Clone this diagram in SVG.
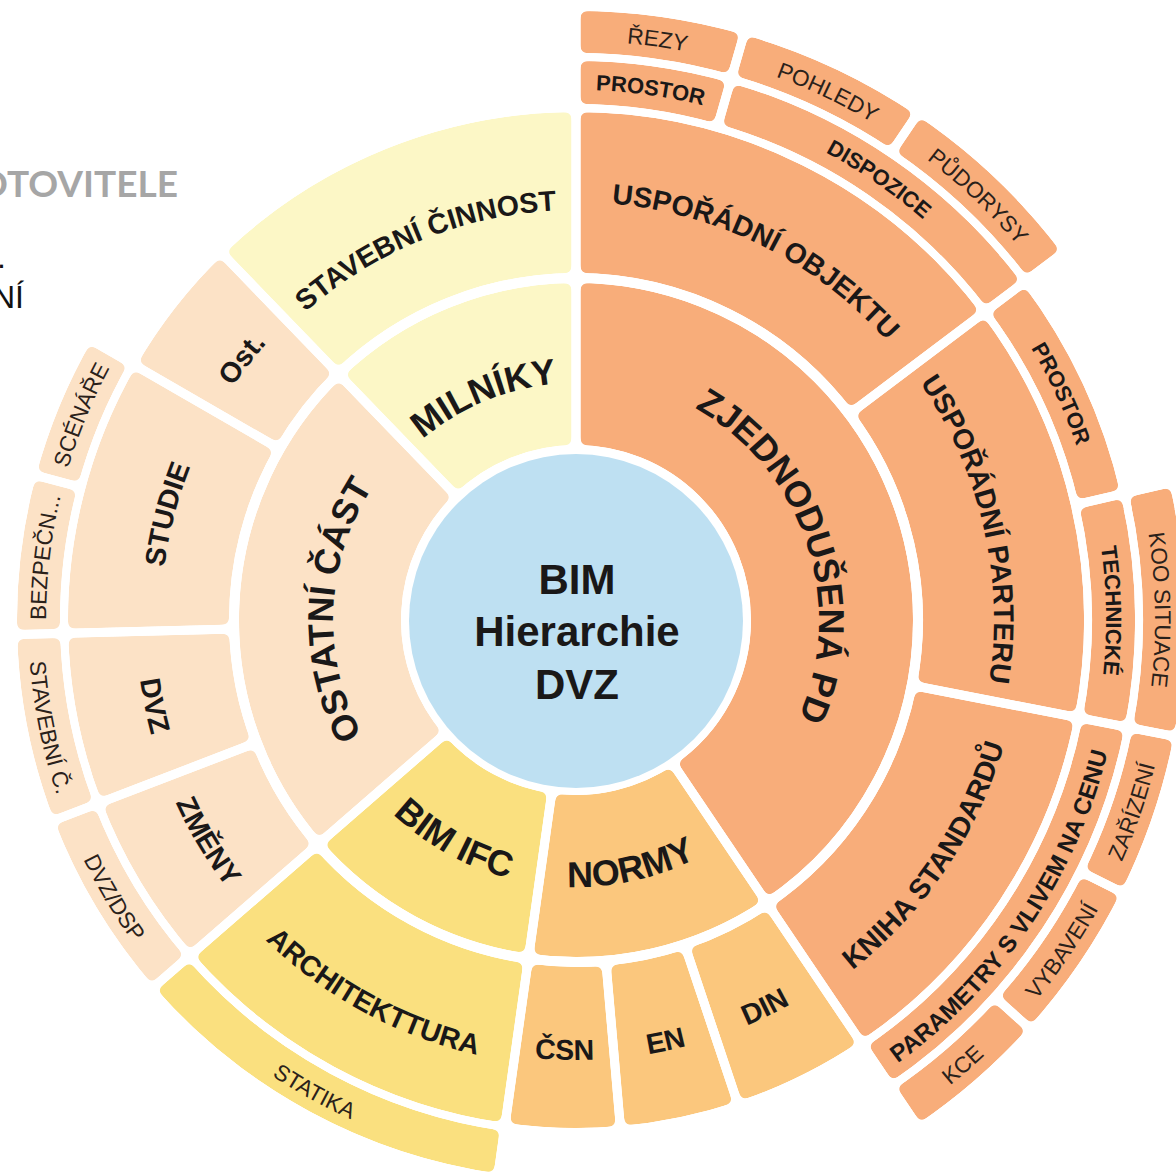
<svg xmlns="http://www.w3.org/2000/svg" width="1176" height="1173" viewBox="0 0 1176 1173">
<style>
.seg{fill:none}
.r1{stroke-width:162}.r2{stroke-width:161}.r3{stroke-width:43}.r4{stroke-width:42}
.or{stroke:#f8ad7a}.pe{stroke:#fce2c6}.ly{stroke:#fcf7c6}.ye{stroke:#fae07f}.lo{stroke:#fbc77d}
.lbl{font-family:"Liberation Sans",Arial,Helvetica,sans-serif;fill:#1a1818;text-anchor:middle}
.b{font-weight:700}
.f36{font-size:36px}.f28{font-size:28.5px}.f22{font-size:22px}.f24{font-size:24px}
.reg{font-weight:400;fill:#2a211a;font-size:22.5px}
.gapline{stroke:#000;stroke-width:9}
</style>
<defs>
<mask id="gaps" maskUnits="userSpaceOnUse" x="-100" y="-100" width="1400" height="1400">
<rect x="-100" y="-100" width="1400" height="1400" fill="#fff"/>
<g class="gapline">
<line x1="746" y1="620" x2="1191" y2="620" transform="rotate(-90 576 620)"/>
<line x1="746" y1="620" x2="1191" y2="620" transform="rotate(56 576 620)"/>
<line x1="746" y1="620" x2="1191" y2="620" transform="rotate(98 576 620)"/>
<line x1="746" y1="620" x2="1191" y2="620" transform="rotate(139 576 620)"/>
<line x1="746" y1="620" x2="1191" y2="620" transform="rotate(226 576 620)"/>
<line x1="918" y1="620" x2="1191" y2="620" transform="rotate(-37 576 620)"/>
<line x1="918" y1="620" x2="1191" y2="620" transform="rotate(11 576 620)"/>
<line x1="918" y1="620" x2="1191" y2="620" transform="rotate(159 576 620)"/>
<line x1="918" y1="620" x2="1191" y2="620" transform="rotate(178.5 576 620)"/>
<line x1="918" y1="620" x2="1191" y2="620" transform="rotate(210 576 620)"/>
<line x1="918" y1="620" x2="1088" y2="620" transform="rotate(71.5 576 620)"/>
<line x1="918" y1="620" x2="1088" y2="620" transform="rotate(85 576 620)"/>
<line x1="1088" y1="620" x2="1191" y2="620" transform="rotate(-74 576 620)"/>
<line x1="1088" y1="620" x2="1191" y2="620" transform="rotate(-13 576 620)"/>
<line x1="1139" y1="620" x2="1191" y2="620" transform="rotate(-56 576 620)"/>
<line x1="1139" y1="620" x2="1191" y2="620" transform="rotate(26.5 576 620)"/>
<line x1="1139" y1="620" x2="1191" y2="620" transform="rotate(42 576 620)"/>
<line x1="1088" y1="620" x2="1139" y2="620" transform="rotate(195 576 620)"/>
</g>
</mask>
<filter id="round" filterUnits="userSpaceOnUse" x="-60" y="-60" width="1300" height="1300" color-interpolation-filters="sRGB">
<feGaussianBlur in="SourceAlpha" stdDeviation="3.5" result="b"/>
<feComponentTransfer in="b" result="m"><feFuncA type="linear" slope="12" intercept="-5.5"/></feComponentTransfer>
<feComposite in="SourceGraphic" in2="m" operator="in"/>
</filter>
<path id="cw237" d="M339,620 A237,237 0 0 1 813,620"/>
<path id="cw243" d="M333,620 A243,243 0 0 1 819,620"/>
<path id="cw410" d="M166,620 A410,410 0 0 1 986,620"/>
<path id="cw415" d="M161,620 A415,415 0 0 1 991,620"/>
<path id="cw418" d="M158,620 A418,418 0 0 1 994,620"/>
<path id="cw530" d="M46,620 A530,530 0 0 1 1106,620"/>
<path id="cw579" d="M-3,620 A579,579 0 0 1 1155,620"/>
<path id="ccw267" d="M309,620 A267,267 0 0 0 843,620"/>
<path id="ccw440" d="M136,620 A440,440 0 0 0 1016,620"/>
<path id="ccw446" d="M130,620 A446,446 0 0 0 1022,620"/>
<path id="ccw548" d="M28,620 A548,548 0 0 0 1124,620"/>
<path id="ccw597" d="M-21,620 A597,597 0 0 0 1173,620"/>
</defs>
<rect width="1176" height="1173" fill="#fff"/>

<g id="page-fragments">
<text x="178" y="197" font-family="Lato,'Liberation Sans',sans-serif" font-weight="700" font-size="37" fill="#a6a6a6" text-anchor="end">OTOVITELE</text>
<text x="-3" y="268" font-family="'Liberation Sans',Arial,sans-serif" font-size="32" fill="#111">.</text>
<text x="24" y="308" font-family="'Liberation Sans',Arial,sans-serif" font-size="32" fill="#111" text-anchor="end">NÍ</text>
</g>

<g id="connectors"/>

<g id="nodes">
<!-- Ring 1 -->
<g id="n-zjednodusena-pd"><g filter="url(#round)"><g mask="url(#gaps)"><circle class="seg r1 or" cx="576" cy="620" r="256" stroke-dasharray="652.3 4000" transform="rotate(-90 576 620)"/></g></g>
<text class="lbl b f36" transform="rotate(71.5 576 620)"><textPath href="#cw243" startOffset="50%">ZJEDNODUŠENÁ PD</textPath></text></g>
<g id="n-normy"><g filter="url(#round)"><g mask="url(#gaps)"><circle class="seg r1 lo" cx="576" cy="620" r="256" stroke-dasharray="187.7 4000" transform="rotate(56 576 620)"/></g></g>
<text class="lbl b f36" transform="rotate(-12.5 576 620)"><textPath href="#ccw267" startOffset="50%">NORMY</textPath></text></g>
<g id="n-bim-ifc"><g filter="url(#round)"><g mask="url(#gaps)"><circle class="seg r1 ye" cx="576" cy="620" r="256" stroke-dasharray="183.2 4000" transform="rotate(98 576 620)"/></g></g>
<text class="lbl b f36" transform="rotate(29 576 620)"><textPath href="#ccw267" startOffset="50%">BIM IFC</textPath></text></g>
<g id="n-ostatni-cast"><g filter="url(#round)"><g mask="url(#gaps)"><circle class="seg r1 pe" cx="576" cy="620" r="256" stroke-dasharray="388.7 4000" transform="rotate(139 576 620)"/></g></g>
<text class="lbl b f36" transform="rotate(272.5 576 620)"><textPath href="#cw243" startOffset="50%">OSTATNÍ ČÁST</textPath></text></g>
<g id="n-milniky"><g filter="url(#round)"><g mask="url(#gaps)"><circle class="seg r1 ly" cx="576" cy="620" r="256" stroke-dasharray="196.6 4000" transform="rotate(226 576 620)"/></g></g>
<text class="lbl b f36" transform="rotate(-22.5 576 620)"><textPath href="#cw237" startOffset="50%">MILNÍKY</textPath></text></g>

<!-- Ring 2 -->
<g id="n-usporadni-objektu"><g filter="url(#round)"><g mask="url(#gaps)"><circle class="seg r2 or" cx="576" cy="620" r="427.5" stroke-dasharray="395.5 4000" transform="rotate(-90 576 620)"/></g></g>
<text class="lbl b f28" transform="rotate(26.5 576 620)"><textPath href="#cw418" startOffset="50%">USPOŘÁDNÍ OBJEKTU</textPath></text></g>
<g id="n-usporadni-parteru"><g filter="url(#round)"><g mask="url(#gaps)"><circle class="seg r2 or" cx="576" cy="620" r="427.5" stroke-dasharray="358.1 4000" transform="rotate(-37 576 620)"/></g></g>
<text class="lbl b f28" transform="rotate(77 576 620)"><textPath href="#cw418" startOffset="50%">USPOŘÁDNÍ PARTERU</textPath></text></g>
<g id="n-kniha-standardu"><g filter="url(#round)"><g mask="url(#gaps)"><circle class="seg r2 or" cx="576" cy="620" r="427.5" stroke-dasharray="335.8 4000" transform="rotate(11 576 620)"/></g></g>
<text class="lbl b f28" transform="rotate(-56 576 620)"><textPath href="#ccw446" startOffset="50%">KNIHA STANDARDŮ</textPath></text></g>
<g id="n-din"><g filter="url(#round)"><g mask="url(#gaps)"><circle class="seg r2 lo" cx="576" cy="620" r="427.5" stroke-dasharray="115.7 4000" transform="rotate(56 576 620)"/></g></g>
<text class="lbl b f28" transform="rotate(-26 576 620)"><textPath href="#ccw440" startOffset="50%">DIN</textPath></text></g>
<g id="n-en"><g filter="url(#round)"><g mask="url(#gaps)"><circle class="seg r2 lo" cx="576" cy="620" r="427.5" stroke-dasharray="100.7 4000" transform="rotate(71.5 576 620)"/></g></g>
<text class="lbl b f28" transform="rotate(-12 576 620)"><textPath href="#ccw440" startOffset="50%">EN</textPath></text></g>
<g id="n-csn"><g filter="url(#round)"><g mask="url(#gaps)"><circle class="seg r2 lo" cx="576" cy="620" r="427.5" stroke-dasharray="97 4000" transform="rotate(85 576 620)"/></g></g>
<text class="lbl b f28" transform="rotate(1.5 576 620)"><textPath href="#ccw440" startOffset="50%">ČSN</textPath></text></g>
<g id="n-architekttura"><g filter="url(#round)"><g mask="url(#gaps)"><circle class="seg r2 ye" cx="576" cy="620" r="427.5" stroke-dasharray="305.9 4000" transform="rotate(98 576 620)"/></g></g>
<text class="lbl b f28" transform="rotate(28.5 576 620)"><textPath href="#ccw446" startOffset="50%">ARCHITEKTTURA</textPath></text></g>
<g id="n-zmeny"><g filter="url(#round)"><g mask="url(#gaps)"><circle class="seg r2 pe" cx="576" cy="620" r="427.5" stroke-dasharray="149.2 4000" transform="rotate(139 576 620)"/></g></g>
<text class="lbl b f28" transform="rotate(59 576 620)"><textPath href="#ccw440" startOffset="50%">ZMĚNY</textPath></text></g>
<g id="n-dvz"><g filter="url(#round)"><g mask="url(#gaps)"><circle class="seg r2 pe" cx="576" cy="620" r="427.5" stroke-dasharray="145.5 4000" transform="rotate(159 576 620)"/></g></g>
<text class="lbl b f28" transform="rotate(78.5 576 620)"><textPath href="#ccw440" startOffset="50%">DVZ</textPath></text></g>
<g id="n-studie"><g filter="url(#round)"><g mask="url(#gaps)"><circle class="seg r2 pe" cx="576" cy="620" r="427.5" stroke-dasharray="235 4000" transform="rotate(178.5 576 620)"/></g></g>
<text class="lbl b f28" transform="rotate(284.5 576 620)"><textPath href="#cw415" startOffset="50%">STUDIE</textPath></text></g>
<g id="n-ost"><g filter="url(#round)"><g mask="url(#gaps)"><circle class="seg r2 pe" cx="576" cy="620" r="427.5" stroke-dasharray="119.4 4000" transform="rotate(210 576 620)"/></g></g>
<text class="lbl b f28" transform="rotate(308 576 620)"><textPath href="#cw415" startOffset="50%">Ost.</textPath></text></g>
<g id="n-stavebni-cinnost"><g filter="url(#round)"><g mask="url(#gaps)"><circle class="seg r2 ly" cx="576" cy="620" r="427.5" stroke-dasharray="328.3 4000" transform="rotate(226 576 620)"/></g></g>
<text class="lbl b f28" transform="rotate(-22 576 620)"><textPath href="#cw410" startOffset="50%">STAVEBNÍ ČINNOST</textPath></text></g>

<!-- Ring 3 -->
<g id="n-prostor-1"><g filter="url(#round)"><g mask="url(#gaps)"><circle class="seg r3 or" cx="576" cy="620" r="537.5" stroke-dasharray="150.1 4000" transform="rotate(-90 576 620)"/></g></g>
<text class="lbl b f22" transform="rotate(8 576 620)"><textPath href="#cw530" startOffset="50%">PROSTOR</textPath></text></g>
<g id="n-dispozice"><g filter="url(#round)"><g mask="url(#gaps)"><circle class="seg r3 or" cx="576" cy="620" r="537.5" stroke-dasharray="347.1 4000" transform="rotate(-74 576 620)"/></g></g>
<text class="lbl b f22" transform="rotate(34.5 576 620)"><textPath href="#cw530" startOffset="50%">DISPOZICE</textPath></text></g>
<g id="n-prostor-2"><g filter="url(#round)"><g mask="url(#gaps)"><circle class="seg r3 or" cx="576" cy="620" r="537.5" stroke-dasharray="225.1 4000" transform="rotate(-37 576 620)"/></g></g>
<text class="lbl b f22" transform="rotate(65 576 620)"><textPath href="#cw530" startOffset="50%">PROSTOR</textPath></text></g>
<g id="n-technicke"><g filter="url(#round)"><g mask="url(#gaps)"><circle class="seg r3 or" cx="576" cy="620" r="537.5" stroke-dasharray="225.1 4000" transform="rotate(-13 576 620)"/></g></g>
<text class="lbl b f22" transform="rotate(89 576 620)"><textPath href="#cw530" startOffset="50%">TECHNICKÉ</textPath></text></g>
<g id="n-parametry"><g filter="url(#round)"><g mask="url(#gaps)"><circle class="seg r3 or" cx="576" cy="620" r="537.5" stroke-dasharray="422.1 4000" transform="rotate(11 576 620)"/></g></g>
<text class="lbl b f24" transform="rotate(-56 576 620)"><textPath href="#ccw548" startOffset="50%">PARAMETRY S VLIVEM NA CENU</textPath></text></g>
<g id="n-statika"><g filter="url(#round)"><g mask="url(#gaps)"><circle class="seg r3 ye" cx="576" cy="620" r="537.5" stroke-dasharray="384.6 4000" transform="rotate(98 576 620)"/></g></g>
<text class="lbl reg" transform="rotate(29 576 620)"><textPath href="#ccw548" startOffset="50%">STATIKA</textPath></text></g>
<g id="n-dvz-dsp"><g filter="url(#round)"><g mask="url(#gaps)"><circle class="seg r3 pe" cx="576" cy="620" r="537.5" stroke-dasharray="187.6 4000" transform="rotate(139 576 620)"/></g></g>
<text class="lbl reg" transform="rotate(59 576 620)"><textPath href="#ccw548" startOffset="50%">DVZ/DSP</textPath></text></g>
<g id="n-stavebni-c"><g filter="url(#round)"><g mask="url(#gaps)"><circle class="seg r3 pe" cx="576" cy="620" r="537.5" stroke-dasharray="182.9 4000" transform="rotate(159 576 620)"/></g></g>
<text class="lbl reg" transform="rotate(78.5 576 620)"><textPath href="#ccw548" startOffset="50%">STAVEBNÍ Č.</textPath></text></g>
<g id="n-bezpecn"><g filter="url(#round)"><g mask="url(#gaps)"><circle class="seg r3 pe" cx="576" cy="620" r="537.5" stroke-dasharray="154.8 4000" transform="rotate(178.5 576 620)"/></g></g>
<text class="lbl reg" transform="rotate(276.75 576 620)"><textPath href="#cw530" startOffset="50%">BEZPEČN...</textPath></text></g>
<g id="n-scenare"><g filter="url(#round)"><g mask="url(#gaps)"><circle class="seg r3 pe" cx="576" cy="620" r="537.5" stroke-dasharray="140.7 4000" transform="rotate(195 576 620)"/></g></g>
<text class="lbl reg" transform="rotate(292.5 576 620)"><textPath href="#cw530" startOffset="50%">SCÉNÁŘE</textPath></text></g>

<!-- Ring 4 -->
<g id="n-rezy"><g filter="url(#round)"><g mask="url(#gaps)"><circle class="seg r4 or" cx="576" cy="620" r="588" stroke-dasharray="164.2 4000" transform="rotate(-90 576 620)"/></g></g>
<text class="lbl reg" transform="rotate(8 576 620)"><textPath href="#cw579" startOffset="50%">ŘEZY</textPath></text></g>
<g id="n-pohledy"><g filter="url(#round)"><g mask="url(#gaps)"><circle class="seg r4 or" cx="576" cy="620" r="588" stroke-dasharray="184.7 4000" transform="rotate(-74 576 620)"/></g></g>
<text class="lbl reg" transform="rotate(25.5 576 620)"><textPath href="#cw579" startOffset="50%">POHLEDY</textPath></text></g>
<g id="n-pudorysy"><g filter="url(#round)"><g mask="url(#gaps)"><circle class="seg r4 or" cx="576" cy="620" r="588" stroke-dasharray="195 4000" transform="rotate(-56 576 620)"/></g></g>
<text class="lbl reg" transform="rotate(43.5 576 620)"><textPath href="#cw579" startOffset="50%">PŮDORYSY</textPath></text></g>
<g id="n-koo-situace"><g filter="url(#round)"><g mask="url(#gaps)"><circle class="seg r4 or" cx="576" cy="620" r="588" stroke-dasharray="246.3 4000" transform="rotate(-13 576 620)"/></g></g>
<text class="lbl reg" transform="rotate(89 576 620)"><textPath href="#cw579" startOffset="50%">KOO SITUACE</textPath></text></g>
<g id="n-zarizeni"><g filter="url(#round)"><g mask="url(#gaps)"><circle class="seg r4 or" cx="576" cy="620" r="588" stroke-dasharray="159.1 4000" transform="rotate(11 576 620)"/></g></g>
<text class="lbl reg" transform="rotate(-71 576 620)"><textPath href="#ccw597" startOffset="50%">ZAŘÍZENÍ</textPath></text></g>
<g id="n-vybaveni"><g filter="url(#round)"><g mask="url(#gaps)"><circle class="seg r4 or" cx="576" cy="620" r="588" stroke-dasharray="159.1 4000" transform="rotate(26.5 576 620)"/></g></g>
<text class="lbl reg" transform="rotate(-55.75 576 620)"><textPath href="#ccw597" startOffset="50%">VYBAVENÍ</textPath></text></g>
<g id="n-kce"><g filter="url(#round)"><g mask="url(#gaps)"><circle class="seg r4 or" cx="576" cy="620" r="588" stroke-dasharray="143.7 4000" transform="rotate(42 576 620)"/></g></g>
<text class="lbl reg" transform="rotate(-41 576 620)"><textPath href="#ccw597" startOffset="50%">KCE</textPath></text></g>

<!-- Center -->
<g id="n-center">
<circle cx="576" cy="621" r="167" fill="#bee0f2"/>
<text class="lbl b" font-size="42" x="577" y="594">BIM</text>
<text class="lbl b" font-size="42" x="577" y="646">Hierarchie</text>
<text class="lbl b" font-size="42" x="577" y="699">DVZ</text>
</g>
</g>
</svg>
